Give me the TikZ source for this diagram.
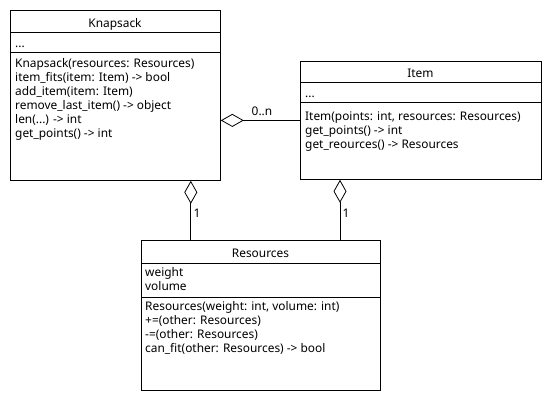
\documentclass[tikz,border=0pt]{standalone}
\usepackage{fontspec}
\setmainfont{Noto Sans}
\usetikzlibrary{arrows.meta}
\usetikzlibrary{positioning}
\usetikzlibrary{calc}
\tikzstyle{classbox}=[draw,line width=0.8pt,anchor=north west,inner sep=0pt]
\tikzstyle{classname}=[anchor=base,inner sep=0pt,font=\fontsize{11.9}{14}\selectfont]
\tikzstyle{member}=[anchor=base west,inner sep=0pt,font=\fontsize{11.9}{14}\selectfont]
\tikzstyle{divider}=[draw,line width=0.8pt]
\tikzstyle{aggr}=[draw,line width=0.8pt,-{Diamond[open,length=23pt,width=13pt,fill=white]}]
\tikzstyle{mult}=[anchor=base,inner sep=0pt,font=\fontsize{11.9}{14}\selectfont]
\newcommand{\threedots}{...}

\begin{document}
\begin{tikzpicture}[x=1pt,y=-1pt]
    \useasboundingbox (0,0) rectangle (550,400);
    % First we draw the class boxes
    \node[classbox,minimum width=210pt,minimum height=170pt] (knap) at (10,10) {};
    \node[classbox,minimum width=241pt,minimum height=118pt] (item) at (300,61) {};
    \node[classbox,minimum width=239pt,minimum height=150pt] (res) at (141,240) {};

    % Names and dividers
    \node[classname] (knapname) at (115,27) {Knapsack};
    \node[classname] (itemname) at (420.5,77) {Item};
    \node[classname] (resname) at (260.5,257) {Resources};
    \foreach \cls/\ya/\yb in {knap/22/42, item/21/41, res/23/57} {
        \path[divider] ($(\cls.north west)+(0,\ya)$) -- ($(\cls.north east)+(0,\ya)$);
        \path[divider] ($(\cls.north west)+(0,\yb)$) -- ($(\cls.north east)+(0,\yb)$);
    }

    % Attributes
    \node[member] (knapattr) at (15,47) {\threedots};
    \node[member] (itemattr) at (305,97) {\threedots};
    \foreach \txt [count=\i] in {weight, volume}
        \node[member] (resattr\i) at (145,{276+14*(\i-1)}) {\txt};

    % Methods
    \foreach \txt [count=\i] in {{Knapsack(resources: Resources)},
        {item\_fits(item: Item) -> bool}, {add\_item(item: Item)},
        {remove\_last\_item() -> object}, {len(\threedots) -> int}, {get\_points() -> int}}
        \node[member] (knapop\i) at (15,{67+14*(\i-1)}) {\txt};
    \foreach \txt [count=\i] in {{Item(points: int, resources: Resources)},
        {get\_points() -> int}, {get\_reources() -> Resources}}
        \node[member] (itemop\i) at (305,{120+14*(\i-1)}) {\txt};
    \foreach \txt [count=\i] in {{Resources(weight: int, volume: int)},
        {+=(other: Resources)}, {-=(other: Resources)},
        {can\_fit(other: Resources) -> bool}}
        \node[member] (resop\i) at (145,{310+14*(\i-1)}) {\txt};

    % Connect classes with aggregations
    \coordinate (knapend) at ($(knap.south east)+(-30,0)$);
    \coordinate (itemend) at ($(item.south west)+(40,0)$);
    \path[aggr] (item.west) -- (item.west -| knap.east);
    \path[aggr] (res.north -| knapend) -- (knapend);
    \path[aggr] (res.north -| itemend) -- (itemend);
    \node[mult] (multitem) at (262,115) {0..n};
    \node[mult] (multknap) at (197,217) {1};
    \node[mult] (multres) at (346,217) {1};
\end{tikzpicture}
\end{document}
